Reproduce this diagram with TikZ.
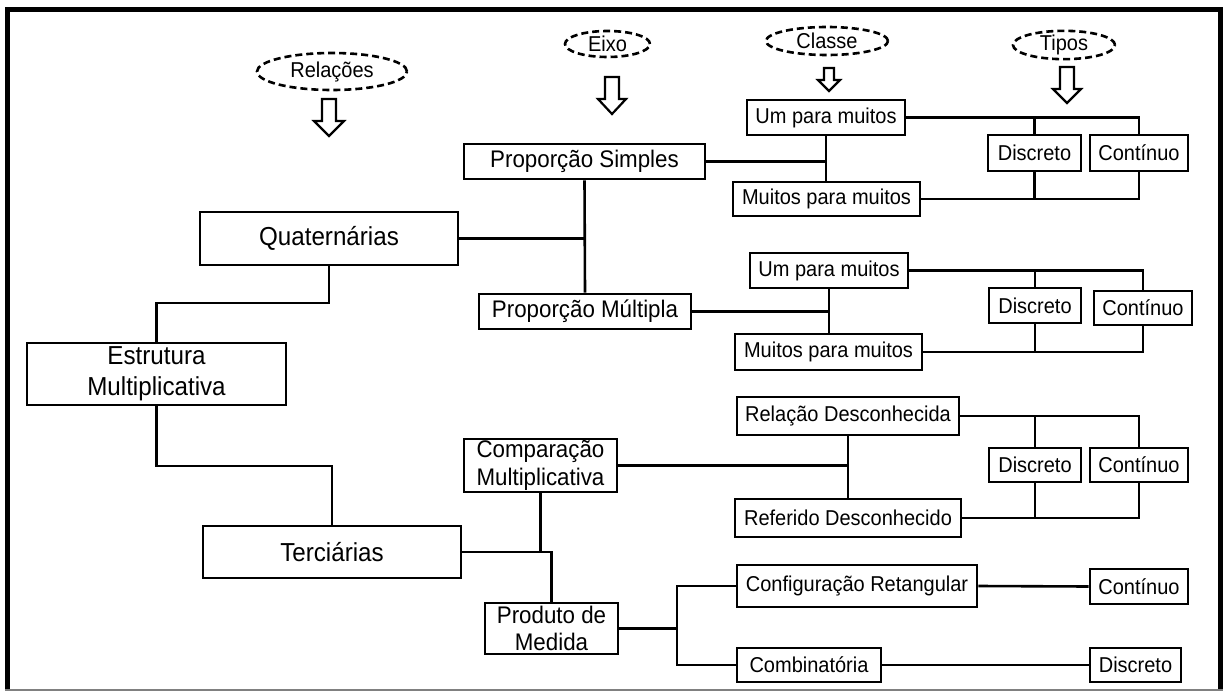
\documentclass[tikz,border=0pt]{standalone}
\usepackage{fontspec}
\setmainfont{Liberation Sans}[FakeStretch=0.93]
\usetikzlibrary{shapes.geometric}
\newcommand{\hollowdown}[6]{% cx, top, headstart, tip, shafthalf, headhalf
  \draw[arrowline] (#1-#5,#2) -- (#1+#5,#2) -- (#1+#5,#3) -- (#1+#6,#3) -- (#1,#4) -- (#1-#6,#3) -- (#1-#5,#3) -- cycle;}
\begin{document}
\begin{tikzpicture}[x=1pt,y=-1pt,
  box/.style={draw, line width=2.6pt, inner sep=0pt, align=center, font=\fontsize{21.5}{25}\selectfont},
  bigbox/.style={box, font=\fontsize{26}{31}\selectfont},
  midbox/.style={box, font=\fontsize{24}{27.5}\selectfont},
  tag/.style={ellipse, draw, dash pattern=on 7pt off 4pt, line width=2.6pt, inner sep=0pt, font=\fontsize{21.5}{25}\selectfont},
  arrowline/.style={draw, line width=2.2pt, fill=white, line join=miter},
  link/.style={line width=2.6pt}]
\useasboundingbox (0,0) rectangle (1226,693);
% frame
\draw[line width=5pt] (7.5,690) -- (7.5,9.5) -- (1220.5,9.5) -- (1220.5,690);
\draw[gray, line width=2pt] (5,690) -- (1223,690);

% tags
\node[tag, minimum width=150, minimum height=37] (trel) at (332,71.5) {Relações};
\node[tag, minimum width=85, minimum height=26] (teixo) at (607.5,44) {Eixo};
\node[tag, minimum width=122, minimum height=28] (tclasse) at (827,41) {Classe};
\node[tag, minimum width=102, minimum height=26] (ttipos) at (1064,45) {Tipos};
\hollowdown{329}{99}{121}{136}{7}{15}
\hollowdown{612}{77}{99}{114}{7}{14}
\hollowdown{829}{68}{80}{91}{5}{11}
\hollowdown{1067}{67}{89}{103}{7}{14}

% main boxes
\node[bigbox, minimum width=258, minimum height=53] (quat) at (329,238.5) {Quaternárias};
\node[bigbox, minimum width=259, minimum height=62] (estr) at (156.5,374) {Estrutura\\Multiplicativa};
\node[bigbox, minimum width=258, minimum height=52] (terc) at (332,552) {Terciárias};
\node[midbox, minimum width=241, minimum height=35] (psimp) at (584.5,161.5) {Proporção Simples};
\node[midbox, minimum width=212, minimum height=35] (pmult) at (585,311.5) {Proporção Múltipla};
\node[midbox, minimum width=153, minimum height=53] (comp) at (540.5,465.5) {Comparação\\Multiplicativa};
\node[midbox, minimum width=133, minimum height=51] (prod) at (551.5,628.5) {Produto de\\Medida};

% group 1
\node[box, minimum width=158, minimum height=35] (um1) at (826,117.5) {Um para muitos};
\node[box, minimum width=187, minimum height=34] (mm1) at (826.5,199) {Muitos para muitos};
\node[box, minimum width=93, minimum height=36] (d1) at (1034.5,153) {Discreto};
\node[box, minimum width=98, minimum height=36] (c1) at (1139,153) {Contínuo};
% group 2
\node[box, minimum width=158, minimum height=35] (um2) at (829,270.5) {Um para muitos};
\node[box, minimum width=187, minimum height=36] (mm2) at (828.5,352) {Muitos para muitos};
\node[box, minimum width=92, minimum height=35] (d2) at (1035,305.5) {Discreto};
\node[box, minimum width=98, minimum height=34] (c2) at (1143,308) {Contínuo};
% group 3
\node[box, minimum width=222, minimum height=38] (rel) at (848,416) {Relação Desconhecida};
\node[box, minimum width=226, minimum height=38] (ref) at (848,518) {Referido Desconhecido};
\node[box, minimum width=92, minimum height=34] (d3) at (1035,465) {Discreto};
\node[box, minimum width=98, minimum height=34] (c3) at (1139,465) {Contínuo};
% group 4
\node[box, minimum width=240, minimum height=42] (conf) at (857,586) {Configuração Retangular};
\node[box, minimum width=98, minimum height=35] (c4) at (1139,586.5) {Contínuo};
\node[box, minimum width=144, minimum height=34] (comb) at (809,665) {Combinatória};
\node[box, minimum width=91, minimum height=34] (d4) at (1135.5,665) {Discreto};

% connectors: main tree
\draw[link] (quat.east) -- (quat.east -| psimp.south);
\draw[link] (psimp.south) -- (pmult.north);
\draw[link] (quat.south) -- (quat.south |- 0,303) -| (estr.north);
\draw[link] (estr.south) -- (estr.south |- 0,466) -| (terc.north);
\draw[link] (terc.east) -- (comp.south |- terc.east);
\draw[link] (comp.south) -- (comp.south |- terc.east) -| (prod.north);

% group 1
\draw[link] (um1.south) -- (mm1.north -| um1.south);
\draw[link] (psimp.east) -- (psimp.east -| um1.south);
\draw[link] (um1.east) -| (c1.north);
\draw[link] (d1.north) -- (d1.north |- um1.east);
\draw[link] (mm1.east) -| (c1.south);
\draw[link] (d1.south) -- (d1.south |- mm1.east);
% group 2
\draw[link] (um2.south) -- (mm2.north -| um2.south);
\draw[link] (pmult.east) -- (pmult.east -| um2.south);
\draw[link] (um2.east) -| (c2.north);
\draw[link] (d2.north) -- (d2.north |- um2.east);
\draw[link] (mm2.east) -| (c2.south);
\draw[link] (d2.south) -- (d2.south |- mm2.east);
% group 3
\draw[link] (rel.south) -- (ref.north);
\draw[link] (comp.east) -- (comp.east -| rel.south);
\draw[link] (rel.east) -| (c3.north);
\draw[link] (d3.north) -- (d3.north |- rel.east);
\draw[link] (ref.east) -| (c3.south);
\draw[link] (d3.south) -- (d3.south |- ref.east);
% group 4
\coordinate (jp) at (677,628.5);
\draw[link] (prod.east) -- (jp);
\draw[link] (conf.west) -| (jp) |- (comb.west);
\draw[link] (conf.east) -- (c4.west);
\draw[link] (comb.east) -- (d4.west);
\end{tikzpicture}
\end{document}
